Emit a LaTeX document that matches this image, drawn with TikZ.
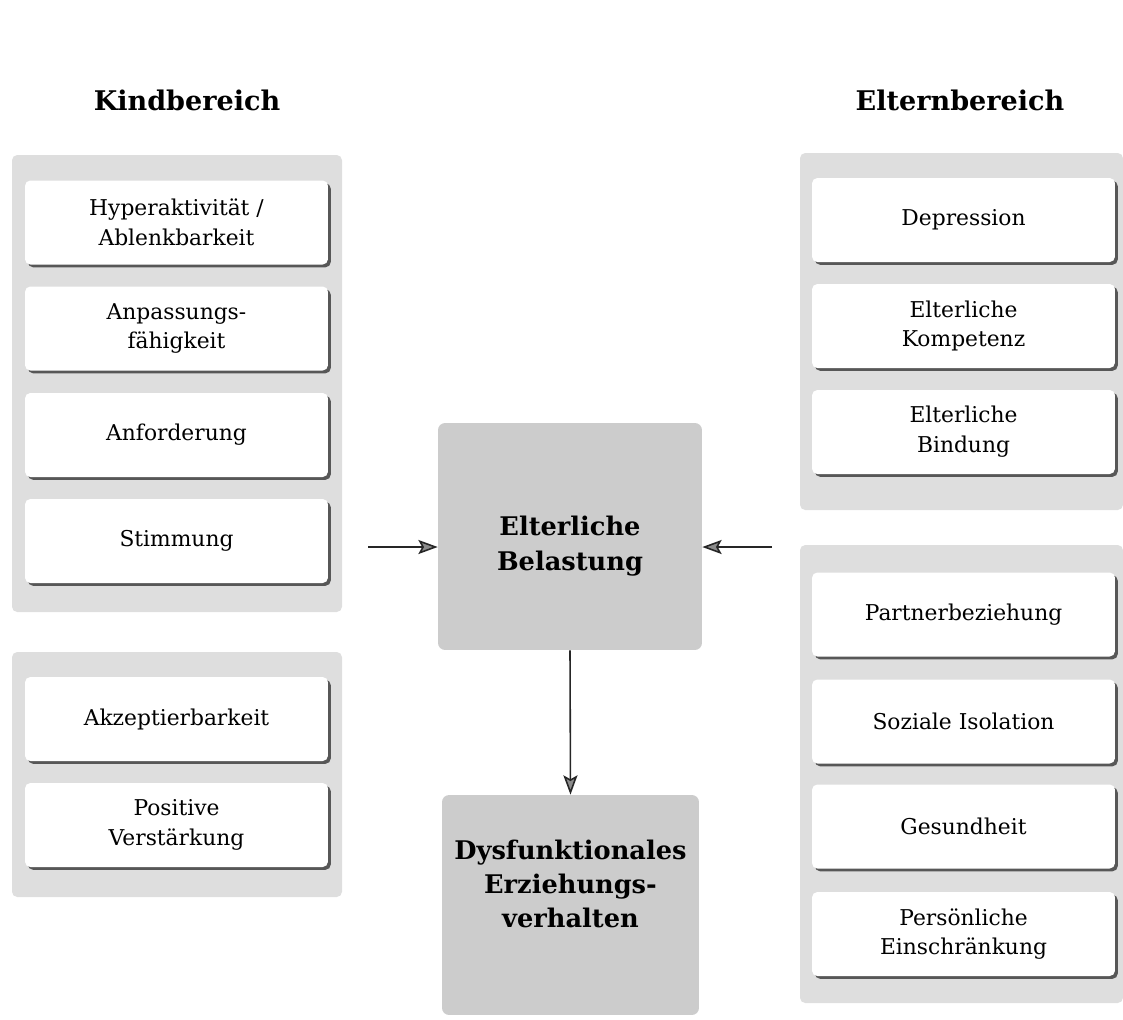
\documentclass[tikz,border=0pt]{standalone}
\usepackage{fontspec}
\setmainfont{DejaVu Serif}
\usetikzlibrary{arrows.meta,shadows}

\begin{document}
\begin{tikzpicture}[x=0.02cm,y=-0.02cm,
  panel/.style={fill=black!13, rounded corners=3pt},
  item/.style={fill=white, rounded corners=3pt, align=center,
    minimum width=6.06cm, minimum height=1.68cm, inner sep=0pt,
    font=\fontsize{12.4}{17}\selectfont,
    drop shadow={shadow xshift=1.6pt, shadow yshift=-1.6pt, fill=black!75, opacity=0.85}},
  core/.style={fill=black!20, rounded corners=4pt, inner sep=0pt},
  coretext/.style={align=center, inner sep=0pt, font=\bfseries\fontsize{14.6}{19.5}\selectfont},
  heading/.style={font=\bfseries\fontsize{15.4}{18}\selectfont},
  arr/.style={-{Stealth[length=11pt, width=8pt, inset=2.2pt, fill=black!45]}, line width=0.9pt, draw=black!85}
]
\useasboundingbox (0,0) rectangle (1123,1019);

% group backgrounds
\fill[panel] (12,155) rectangle (342,612);
\fill[panel] (12,652) rectangle (342,897);
\fill[panel] (800,153) rectangle (1123,510);
\fill[panel] (800,545) rectangle (1123,1003);

% headings
\node[heading] (kind) at (187,100) {Kindbereich};
\node[heading] (eltern) at (960,100) {Elternbereich};

% child domain
\node[item] (k1) at (176.5,222.5) {Hyperaktivität /\\Ablenkbarkeit};
\node[item] (k2) at (176.5,328.5) {Anpassungs-\\fähigkeit};
\node[item] (k3) at (176.5,435) {Anforderung};
\node[item] (k4) at (176.5,541) {Stimmung};
\node[item] (k5) at (176.5,719) {Akzeptierbarkeit};
\node[item] (k6) at (176.5,825) {Positive\\Verstärkung};

% parent domain
\node[item] (e1) at (963.5,220) {Depression};
\node[item] (e2) at (963.5,326) {Elterliche\\Kompetenz};
\node[item] (e3) at (963.5,432) {Elterliche\\Bindung};
\node[item] (e4) at (963.5,614.5) {Partnerbeziehung};
\node[item] (e5) at (963.5,721.5) {Soziale Isolation};
\node[item] (e6) at (963.5,826.5) {Gesundheit};
\node[item] (e7) at (963.5,934) {Persönliche\\Einschränkung};

% central chain
\node[core, minimum width=5.28cm, minimum height=4.54cm] (stress) at (570,536.5) {};
\node[coretext] (stresstext) at (570,546) {Elterliche\\Belastung};
\node[core, minimum width=5.14cm, minimum height=4.4cm] (behav) at (570.5,905) {};
\node[coretext] (behavtext) at (570.5,884) {Dysfunktionales\\Erziehungs-\\verhalten};

\coordinate (lin) at (368,547);
\coordinate (rin) at (772,547);
\draw[arr] (lin) -- (lin -| stress.west);
\draw[arr] (rin) -- (rin -| stress.east);
\draw[arr] (stress.south) -- (behav.north);
\end{tikzpicture}
\end{document}
